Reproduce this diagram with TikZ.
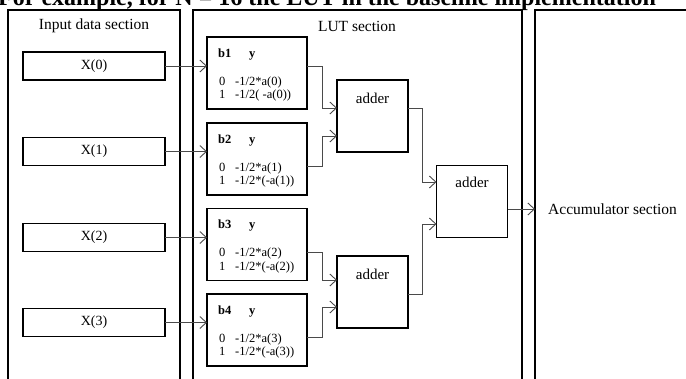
\documentclass[tikz,border=0pt]{standalone}
\usepackage{fontspec}
\setmainfont{Liberation Serif}
\usetikzlibrary{arrows.meta,calc}
\definecolor{conncol}{HTML}{4A4A4A}
\begin{document}
\begin{tikzpicture}[x=1pt,y=-1pt,
  sec/.style={draw=black, line width=1.1pt, anchor=north west, inner sep=0pt, outer sep=0pt},
  box/.style={draw=black, line width=1.3pt, inner sep=0pt, outer sep=0pt},
  xbox/.style={box, minimum width=142pt, minimum height=28pt, font=\fontsize{14}{16}\selectfont},
  lutbox/.style={box, minimum width=100pt, minimum height=72pt},
  addbox/.style={box, minimum width=71pt, minimum height=72pt},
  title/.style={font=\fontsize{15.5}{18}\selectfont, inner sep=0pt},
  addlabel/.style={font=\fontsize{15}{18}\selectfont, inner sep=0pt},
  small/.style={font=\fontsize{12.5}{14}\selectfont, inner sep=0pt, anchor=base west},
  conn/.style={draw=conncol, line width=0.9pt, -{Straight Barb[length=6.5pt,width=12pt]}},
]
\useasboundingbox (0,0) rectangle (686,378);
\clip (0,0) rectangle (686,378);

% clipped header text
\node[anchor=base west, inner sep=0pt, font=\bfseries\fontsize{24}{27}\selectfont] (hdr) at (-2,5.5)
  {For example, for N = 16 the LUT in the baseline implementation};

% sections
\node[sec, minimum width=172pt, minimum height=400pt] (insec) at (8,10) {};
\node[sec, minimum width=329pt, minimum height=400pt] (lutsec) at (193,10) {};
\node[sec, minimum width=200pt, minimum height=400pt] (accsec) at (535,10) {};
\node[title] (intitle) at (94,26) {Input data section};
\node[title] (luttitle) at (357,26) {LUT section};
\node[title, anchor=west] (acctitle) at (548,209) {Accumulator section};

% input boxes
\node[xbox] (x0) at (94,66) {X(0)};
\node[xbox] (x1) at (94,151.5) {X(1)};
\node[xbox] (x2) at (94,237.5) {X(2)};
\node[xbox] (x3) at (94,322.5) {X(3)};

% LUT boxes
\node[lutbox] (b1) at (257,73) {};
\node[small] (b1h) at ($(b1.north west)+(11,20)$) {\textbf{b1}};
\node[small] (b1y) at ($(b1.north west)+(42,20)$) {\textbf{y}};
\node[small] (b1z) at ($(b1.north west)+(12,48)$) {0};
\node[small] (b1ze) at ($(b1.north west)+(28,48)$) {-1/2*a(0)};
\node[small] (b1o) at ($(b1.north west)+(12,61.5)$) {1};
\node[small] (b1oe) at ($(b1.north west)+(28,61.5)$) {-1/2( -a(0))};

\node[lutbox] (b2) at (257,159) {};
\node[small] (b2h) at ($(b2.north west)+(11,20)$) {\textbf{b2}};
\node[small] (b2y) at ($(b2.north west)+(42,20)$) {\textbf{y}};
\node[small] (b2z) at ($(b2.north west)+(12,48)$) {0};
\node[small] (b2ze) at ($(b2.north west)+(28,48)$) {-1/2*a(1)};
\node[small] (b2o) at ($(b2.north west)+(12,61.5)$) {1};
\node[small] (b2oe) at ($(b2.north west)+(28,61.5)$) {-1/2*(-a(1))};

\node[lutbox] (b3) at (257,244.5) {};
\node[small] (b3h) at ($(b3.north west)+(11,20)$) {\textbf{b3}};
\node[small] (b3y) at ($(b3.north west)+(42,20)$) {\textbf{y}};
\node[small] (b3z) at ($(b3.north west)+(12,48)$) {0};
\node[small] (b3ze) at ($(b3.north west)+(28,48)$) {-1/2*a(2)};
\node[small] (b3o) at ($(b3.north west)+(12,61.5)$) {1};
\node[small] (b3oe) at ($(b3.north west)+(28,61.5)$) {-1/2*(-a(2))};

\node[lutbox] (b4) at (257,330) {};
\node[small] (b4h) at ($(b4.north west)+(11,20)$) {\textbf{b4}};
\node[small] (b4y) at ($(b4.north west)+(42,20)$) {\textbf{y}};
\node[small] (b4z) at ($(b4.north west)+(12,48)$) {0};
\node[small] (b4ze) at ($(b4.north west)+(28,48)$) {-1/2*a(3)};
\node[small] (b4o) at ($(b4.north west)+(12,61.5)$) {1};
\node[small] (b4oe) at ($(b4.north west)+(28,61.5)$) {-1/2*(-a(3))};

% adders
\node[addbox] (a1) at (372.5,116) {};
\node[addlabel] (a1t) at ($(a1.north)+(0,18)$) {adder};
\node[addbox] (a2) at (372.5,292) {};
\node[addlabel] (a2t) at ($(a2.north)+(0,18)$) {adder};
\node[addbox] (a3) at (472,201.5) {};
\node[addlabel] (a3t) at ($(a3.north)+(0,17)$) {adder};

% connectors
\draw[conn] (x0.east) -- (x0.east -| b1.west);
\draw[conn] (x1.east) -- (x1.east -| b2.west);
\draw[conn] (x2.east) -- (x2.east -| b3.west);
\draw[conn] (x3.east) -- (x3.east -| b4.west);

\coordinate (j1) at (322,66);
\coordinate (j2) at (322,166);
\coordinate (j3) at (322,252);
\coordinate (j4) at (322,337);
\coordinate (k1) at (422,108);
\coordinate (k2) at (422,294);
\coordinate (k3) at (422,209);

\draw[conn] (b1.east |- j1) -- (j1) |- (a1.west |- k1);
\draw[conn] (b2.east |- j2) -- (j2) |- ($(a1.west)+(0,20)$);
\draw[conn] (b3.east |- j3) -- (j3) |- ($(a2.west)+(0,-12)$);
\draw[conn] (b4.east |- j4) -- (j4) |- ($(a2.west)+(0,15)$);
\draw[conn] (a1.east |- k1) -- (k1) |- ($(a3.west)+(0,-19.5)$);
\draw[conn] (a2.east |- k2) -- (k2) |- ($(a3.west)+(0,22.5)$);
\draw[conn] (a3.east |- k3) -- (accsec.west |- k3);
\end{tikzpicture}
\end{document}
